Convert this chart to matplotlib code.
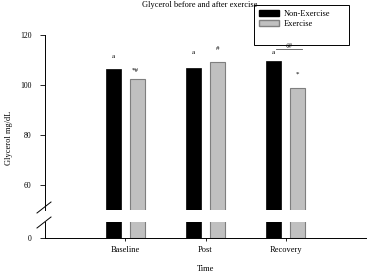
import matplotlib
matplotlib.use("Agg")
import matplotlib.pyplot as plt
from matplotlib.lines import Line2D
from matplotlib.patches import Rectangle, Patch
import numpy as np

plt.rcParams["font.family"] = ["Liberation Serif", "DejaVu Serif"]

# data
categories = ["Baseline", "Post", "Recovery"]
non_exercise = [106.4, 106.9, 109.6]
exercise = [102.3, 109.3, 98.7]

# significance marks (text, y in data units)
marks_non = ["a", "a", "a"]
marks_non_y = [111.6, 113.2, 112.8]
marks_ex = ["*#", "#", "*"]
marks_ex_y = [105.6, 114.8, 104.4]

W, H = 367, 276
fig = plt.figure(figsize=(W / 100, H / 100), dpi=100)

left, right = 45 / W, 366 / W
ax_top = fig.add_axes([left, 1 - 210 / H, right - left, 175 / H])
ax_bot = fig.add_axes([left, 1 - 238 / H, right - left, 16 / H])

x = np.arange(1, len(categories) + 1)
off, bw = 0.15, 0.185
for ax in (ax_top, ax_bot):
    ax.bar(x - off, non_exercise, bw, color="black", edgecolor="black", linewidth=0.5)
    ax.bar(x + off, exercise, bw, color="#c0c0c0", edgecolor="#7f7f7f", linewidth=0.8)
    ax.set_xlim(0, 4)
    for s in ("top", "right"):
        ax.spines[s].set_visible(False)
    ax.spines["left"].set_linewidth(0.7)
    ax.spines["bottom"].set_linewidth(0.7)

ax_top.set_ylim(50, 120)
ax_top.set_yticks([60, 80, 100, 120])
ax_top.spines["bottom"].set_visible(False)
ax_top.tick_params(axis="x", bottom=False, labelbottom=False)
ax_top.tick_params(axis="y", labelsize=5.6, length=3.6, width=0.6, pad=6)

ax_bot.set_ylim(0, 6.4)
ax_bot.set_yticks([0])
ax_bot.set_xticks(x)
ax_bot.set_xticklabels(categories)
ax_bot.tick_params(axis="y", labelsize=5.6, length=3.6, width=0.6, pad=6)
ax_bot.tick_params(axis="x", labelsize=6, length=2.2, width=0.6, pad=3.5)
ax_bot.set_xlabel("Time", fontsize=6, labelpad=8)

# significance marks
for xi, t, yv in zip(x - off, marks_non, marks_non_y):
    ax_top.text(xi, yv, t, fontsize=5, ha="center", va="center")
for xi, t, yv in zip(x + off, marks_ex, marks_ex_y):
    ax_top.text(xi - 0.03 if t == "*#" else xi, yv, t, fontsize=5, ha="center", va="center")
ax_top.text(3.036, 115.6, "@", fontsize=5, ha="center", va="center")
ax_top.plot([2.875, 3.197], [114.4, 114.4], color="#555555", lw=0.6)

# axis break marks
for y0 in (207.5, 222.5):
    fig.add_artist(Line2D([37 / W, 51 / W], [1 - (y0 + 5.5) / H, 1 - (y0 - 5.5) / H],
                          color="black", lw=0.7))

fig.text(9 / W, 1 - 138 / H, "Glycerol mg/dL", rotation=90, fontsize=6,
         ha="center", va="center")
fig.text(199.5 / W, 1 - 7 / H, "Glycerol before and after exercise", fontsize=6,
         ha="center", va="baseline")

# legend with its own frame
fig.add_artist(Rectangle((254 / W, 1 - 45 / H), 95 / W, 40 / H, transform=fig.transFigure,
                         fill=False, edgecolor="black", lw=0.7))
handles = [Patch(facecolor="black", edgecolor="black"),
           Patch(facecolor="#c0c0c0", edgecolor="#7f7f7f")]
fig.legend(handles, ["Non-Exercise", "Exercise"], loc="upper left",
           bbox_to_anchor=(254 / W, 1 - 5 / H), frameon=False, fontsize=6,
           borderpad=0.6, handlelength=2.4, handleheight=0.7, handletextpad=0.6,
           labelspacing=0.2, borderaxespad=0)

fig.savefig("out.png", dpi=100)
